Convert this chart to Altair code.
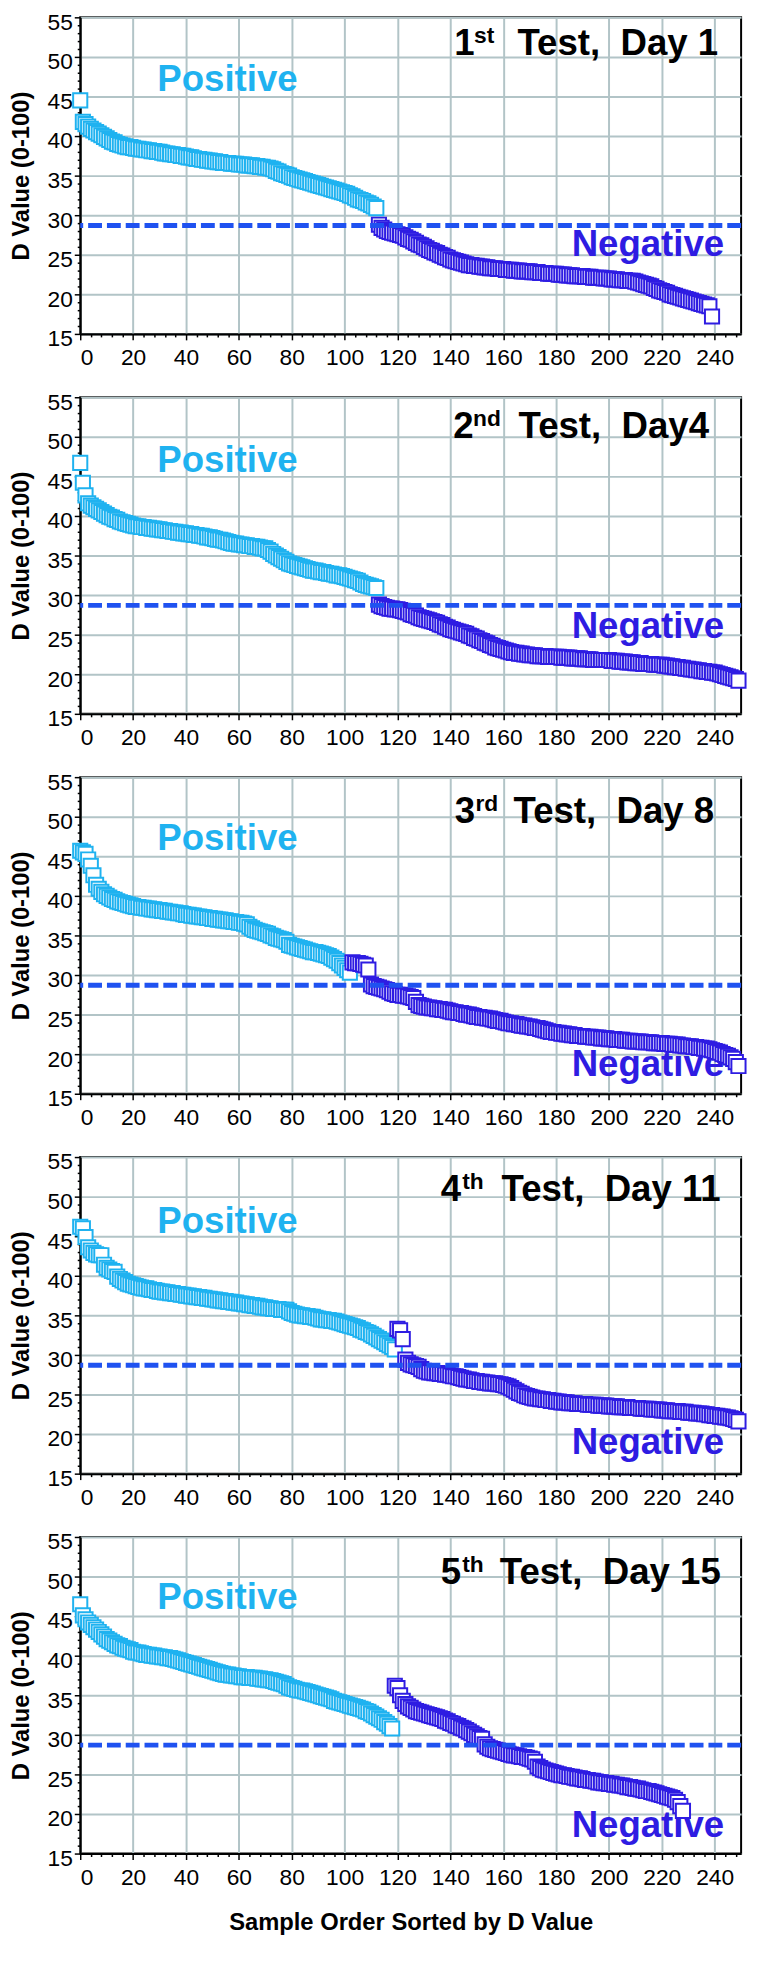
import altair as alt
import pandas as pd

# ---------------- data ----------------
# D values, sample order 0..N (positives first, then negatives)
P1_POS = [44.5, 41.8, 41.5, 41.2, 40.9, 40.7, 40.5, 40.3, 40.1, 39.9,
          39.7, 39.5, 39.3, 39.2, 39.0, 38.9, 38.8, 38.7, 38.6, 38.6,
          38.5, 38.4, 38.4, 38.3, 38.3, 38.2, 38.2, 38.1, 38.1, 38.0,
          38.0, 37.9, 37.8, 37.8, 37.7, 37.7, 37.6, 37.6, 37.5, 37.5,
          37.4, 37.3, 37.3, 37.2, 37.1, 37.1, 37.0, 37.0, 36.9, 36.9,
          36.8, 36.8, 36.7, 36.7, 36.6, 36.6, 36.6, 36.5, 36.5, 36.5,
          36.4, 36.4, 36.4, 36.3, 36.3, 36.3, 36.2, 36.2, 36.1, 36.1,
          36.0, 36.0, 35.9, 35.8, 35.6, 35.5, 35.3, 35.2, 35.1, 35.0,
          34.8, 34.7, 34.6, 34.5, 34.4, 34.3, 34.2, 34.1, 34.0, 33.9,
          33.8, 33.7, 33.6, 33.5, 33.4, 33.3, 33.2, 33.1, 33.0, 32.9,
          32.8, 32.7, 32.5, 32.4, 32.2, 32.0, 31.9, 31.8, 31.6, 31.5,
          31.3, 31.1, 30.9]
P1_NEG = [28.8, 28.4, 28.2, 28.0, 27.9, 27.8, 27.7,
          27.6, 27.5, 27.4, 27.2, 27.0, 26.9, 26.7, 26.5, 26.3, 26.2,
          26.0, 25.8, 25.6, 25.5, 25.3, 25.2, 25.0, 24.9, 24.7, 24.6,
          24.4, 24.3, 24.2, 24.1, 24.0, 23.9, 23.8, 23.7, 23.7, 23.6,
          23.6, 23.5, 23.5, 23.4, 23.4, 23.3, 23.3, 23.3, 23.2, 23.2,
          23.2, 23.1, 23.1, 23.1, 23.0, 23.0, 23.0, 22.9, 22.9, 22.9,
          22.9, 22.8, 22.8, 22.8, 22.7, 22.7, 22.7, 22.6, 22.6, 22.6,
          22.6, 22.5, 22.5, 22.5, 22.4, 22.4, 22.4, 22.3, 22.3, 22.3,
          22.3, 22.2, 22.2, 22.2, 22.1, 22.1, 22.1, 22.1, 22.0, 22.0,
          22.0, 21.9, 21.9, 21.9, 21.8, 21.8, 21.8, 21.7, 21.7, 21.7,
          21.6, 21.5, 21.4, 21.3, 21.2, 21.1, 21.0, 20.8, 20.7, 20.5,
          20.4, 20.3, 20.2, 20.0, 19.9, 19.8, 19.7, 19.6, 19.5, 19.4,
          19.3, 19.2, 19.1, 19.0, 18.9, 18.8, 18.7, 18.6, 18.5, 17.2]

P2_POS = [46.7, 44.2, 42.6, 41.6, 41.3, 41.1, 40.9, 40.7, 40.5, 40.3,
          40.1, 39.9, 39.8, 39.6, 39.5, 39.3, 39.2, 39.1, 39.0, 38.9,
          38.8, 38.7, 38.7, 38.6, 38.6, 38.5, 38.5, 38.4, 38.4, 38.3,
          38.3, 38.2, 38.2, 38.1, 38.1, 38.0, 38.0, 37.9, 37.9, 37.8,
          37.8, 37.7, 37.7, 37.6, 37.6, 37.5, 37.5, 37.4, 37.3, 37.3,
          37.2, 37.1, 37.0, 37.0, 36.9, 36.8, 36.7, 36.6, 36.5, 36.5,
          36.4, 36.4, 36.3, 36.3, 36.2, 36.2, 36.1, 36.1, 36.0, 35.9,
          35.9, 35.7, 35.5, 35.2, 35.0, 34.8, 34.6, 34.4, 34.2, 34.0,
          33.9, 33.8, 33.7, 33.6, 33.5, 33.4, 33.3, 33.2, 33.1, 33.1,
          33.0, 32.9, 32.9, 32.8, 32.7, 32.7, 32.6, 32.5, 32.5, 32.4,
          32.3, 32.2, 32.1, 32.0, 31.9, 31.8, 31.6, 31.4, 31.3, 31.2,
          31.1, 31.0, 30.9]
P2_NEG = [28.8, 28.6, 28.5, 28.4, 28.3, 28.3, 28.2,
          28.2, 28.1, 28.0, 27.9, 27.8, 27.6, 27.5, 27.4, 27.2, 27.1,
          27.0, 26.9, 26.8, 26.7, 26.6, 26.5, 26.3, 26.2, 26.0, 25.9,
          25.7, 25.6, 25.5, 25.4, 25.3, 25.2, 25.1, 24.9, 24.8, 24.6,
          24.5, 24.3, 24.2, 24.0, 23.9, 23.7, 23.6, 23.4, 23.3, 23.2,
          23.1, 23.0, 22.9, 22.8, 22.7, 22.7, 22.6, 22.6, 22.5, 22.5,
          22.4, 22.4, 22.4, 22.3, 22.3, 22.3, 22.3, 22.2, 22.2, 22.2,
          22.2, 22.2, 22.1, 22.1, 22.1, 22.1, 22.0, 22.0, 22.0, 22.0,
          21.9, 21.9, 21.9, 21.9, 21.8, 21.8, 21.8, 21.8, 21.8, 21.8,
          21.8, 21.7, 21.7, 21.7, 21.6, 21.6, 21.6, 21.5, 21.5, 21.5,
          21.4, 21.4, 21.4, 21.3, 21.3, 21.3, 21.3, 21.2, 21.2, 21.2,
          21.2, 21.1, 21.1, 21.0, 21.0, 20.9, 20.9, 20.8, 20.8, 20.7,
          20.7, 20.6, 20.6, 20.5, 20.5, 20.4, 20.4, 20.3, 20.3, 20.2,
          20.2, 20.1, 20.0, 19.9, 19.8, 19.7, 19.6, 19.5, 19.4, 19.2]

P3_POS = [45.7, 45.5, 45.3, 44.6, 43.8, 42.6, 41.4, 40.9, 40.5, 40.2,
          40.0, 39.8, 39.6, 39.5, 39.3, 39.2, 39.1, 39.0, 38.9, 38.8,
          38.7, 38.6, 38.6, 38.5, 38.5, 38.4, 38.4, 38.3, 38.3, 38.2,
          38.2, 38.1, 38.1, 38.0, 38.0, 37.9, 37.9, 37.8, 37.8, 37.7,
          37.6, 37.6, 37.5, 37.5, 37.4, 37.4, 37.3, 37.3, 37.2, 37.2,
          37.1, 37.1, 37.0, 37.0, 36.9, 36.9, 36.8, 36.8, 36.7, 36.7,
          36.6, 36.6, 36.5, 36.4, 36.1, 35.9, 35.7, 35.6, 35.5, 35.4,
          35.3, 35.2, 35.0, 34.9, 34.7, 34.6, 34.5, 34.4, 34.2, 33.8,
          33.7, 33.6, 33.5, 33.4, 33.3, 33.2, 33.1, 33.0, 32.9, 32.9,
          32.8, 32.7, 32.6, 32.5, 32.4, 32.2, 32.0, 31.8, 31.5, 31.2,
          30.9, 30.6, 30.3]
P3_NEG = [31.6, 31.5, 31.5, 31.4, 31.3, 31.2, 30.7,
          28.8, 28.6, 28.5, 28.4, 28.3, 28.2, 28.1, 27.9, 27.7, 27.6,
          27.5, 27.5, 27.4, 27.4, 27.3, 27.2, 27.1, 26.6, 26.2, 26.1,
          26.0, 25.9, 25.9, 25.8, 25.8, 25.7, 25.7, 25.6, 25.6, 25.5,
          25.4, 25.3, 25.3, 25.2, 25.2, 25.1, 25.0, 25.0, 24.9, 24.8,
          24.7, 24.7, 24.6, 24.6, 24.5, 24.5, 24.4, 24.3, 24.2, 24.2,
          24.1, 24.0, 23.9, 23.9, 23.8, 23.8, 23.7, 23.6, 23.6, 23.5,
          23.5, 23.4, 23.3, 23.3, 23.2, 23.1, 23.0, 22.9, 22.8, 22.8,
          22.7, 22.7, 22.6, 22.6, 22.5, 22.5, 22.4, 22.4, 22.3, 22.3,
          22.3, 22.2, 22.2, 22.2, 22.1, 22.1, 22.1, 22.0, 22.0, 22.0,
          21.9, 21.9, 21.9, 21.8, 21.8, 21.8, 21.7, 21.7, 21.7, 21.6,
          21.6, 21.6, 21.6, 21.5, 21.5, 21.5, 21.5, 21.4, 21.4, 21.4,
          21.4, 21.3, 21.3, 21.3, 21.2, 21.2, 21.2, 21.1, 21.1, 21.0,
          21.0, 21.0, 20.9, 20.9, 20.8, 20.8, 20.7, 20.7, 20.6, 20.5,
          20.4, 20.3, 20.2, 20.0, 19.9, 19.8, 19.6, 19.4, 19.0, 18.5]

P4_POS = [46.2, 46.0, 44.9, 43.6, 43.2, 42.9, 42.7, 42.6, 42.6, 41.4,
          41.0, 40.8, 40.6, 40.5, 39.9, 39.6, 39.4, 39.2, 39.0, 38.9,
          38.8, 38.7, 38.6, 38.5, 38.4, 38.4, 38.3, 38.2, 38.2, 38.1,
          38.0, 38.0, 37.9, 37.9, 37.8, 37.8, 37.7, 37.7, 37.6, 37.6,
          37.5, 37.5, 37.4, 37.4, 37.3, 37.3, 37.2, 37.2, 37.1, 37.1,
          37.0, 37.0, 36.9, 36.9, 36.8, 36.8, 36.7, 36.7, 36.6, 36.6,
          36.5, 36.5, 36.4, 36.4, 36.3, 36.3, 36.2, 36.2, 36.1, 36.0,
          36.0, 35.9, 35.9, 35.8, 35.8, 35.8, 35.7, 35.7, 35.7, 35.5,
          35.3, 35.2, 35.1, 35.0, 35.0, 34.9, 34.9, 34.8, 34.8, 34.7,
          34.6, 34.5, 34.5, 34.4, 34.4, 34.3, 34.3, 34.2, 34.1, 34.0,
          33.9, 33.8, 33.7, 33.6, 33.5, 33.4, 33.2, 33.1, 32.9, 32.8,
          32.6, 32.4, 32.2, 32.0, 31.8, 31.6, 31.4, 31.2, 31.0, 30.7]
P4_NEG = [33.3, 33.1, 32.0, 29.4, 29.0, 28.8, 28.7, 28.6, 28.5, 28.2,
          28.0, 27.9, 27.8, 27.8, 27.7, 27.7, 27.6, 27.6, 27.5, 27.5,
          27.4, 27.3, 27.3, 27.2, 27.1, 27.0, 26.9, 26.9, 26.8, 26.7,
          26.7, 26.6, 26.6, 26.5, 26.5, 26.4, 26.4, 26.4, 26.3, 26.3,
          26.2, 26.1, 26.0, 25.8, 25.6, 25.4, 25.2, 25.1, 24.9, 24.8,
          24.7, 24.6, 24.5, 24.5, 24.4, 24.4, 24.3, 24.3, 24.2, 24.2,
          24.1, 24.1, 24.0, 24.0, 24.0, 23.9, 23.9, 23.9, 23.8, 23.8,
          23.8, 23.8, 23.7, 23.7, 23.7, 23.7, 23.6, 23.6, 23.6, 23.6,
          23.5, 23.5, 23.5, 23.5, 23.4, 23.4, 23.4, 23.4, 23.3, 23.3,
          23.3, 23.3, 23.2, 23.2, 23.2, 23.2, 23.1, 23.1, 23.1, 23.1,
          23.0, 23.0, 23.0, 22.9, 22.9, 22.9, 22.9, 22.8, 22.8, 22.8,
          22.7, 22.7, 22.7, 22.6, 22.6, 22.6, 22.5, 22.5, 22.4, 22.4,
          22.3, 22.3, 22.2, 22.2, 22.1, 22.1, 22.0, 21.9, 21.8, 21.6]

P5_POS = [46.5, 45.1, 44.6, 44.2, 43.9, 43.6, 43.3, 43.0, 42.7, 42.4,
          42.1, 41.9, 41.7, 41.5, 41.3, 41.2, 41.0, 40.9, 40.8, 40.7,
          40.5, 40.4, 40.4, 40.3, 40.2, 40.1, 40.1, 40.0, 40.0, 39.9,
          39.9, 39.8, 39.8, 39.7, 39.7, 39.6, 39.5, 39.4, 39.3, 39.2,
          39.1, 39.0, 38.9, 38.8, 38.7, 38.6, 38.5, 38.4, 38.3, 38.2,
          38.1, 38.0, 37.9, 37.8, 37.7, 37.6, 37.6, 37.5, 37.5, 37.4,
          37.4, 37.3, 37.3, 37.3, 37.2, 37.2, 37.2, 37.1, 37.1, 37.0,
          37.0, 36.9, 36.9, 36.8, 36.7, 36.6, 36.5, 36.4, 36.2, 36.0,
          35.9, 35.8, 35.7, 35.6, 35.6, 35.5, 35.4, 35.3, 35.2, 35.1,
          35.0, 34.9, 34.8, 34.7, 34.6, 34.5, 34.3, 34.2, 34.1, 34.0,
          33.9, 33.8, 33.7, 33.6, 33.5, 33.4, 33.3, 33.2, 33.0, 32.9,
          32.7, 32.5, 32.3, 32.1, 31.9, 31.6, 31.4, 31.1, 30.8]
P5_NEG = [36.2, 35.9, 35.0, 34.3, 33.9, 33.6, 33.4, 33.2, 33.0, 32.9, 32.8,
          32.7, 32.6, 32.5, 32.4, 32.3, 32.2, 32.1, 32.0, 31.8, 31.7,
          31.5, 31.4, 31.2, 31.1, 30.9, 30.8, 30.6, 30.4, 30.2, 30.0,
          29.8, 29.6, 29.5, 28.8, 28.5, 28.3, 28.2, 28.1, 28.0, 27.9,
          27.8, 27.7, 27.6, 27.5, 27.4, 27.4, 27.3, 27.2, 27.2, 27.1,
          27.0, 26.9, 26.6, 26.0, 25.8, 25.6, 25.5, 25.4, 25.3, 25.2,
          25.1, 25.0, 24.9, 24.9, 24.8, 24.7, 24.7, 24.6, 24.5, 24.5,
          24.4, 24.3, 24.3, 24.2, 24.2, 24.1, 24.0, 24.0, 23.9, 23.9,
          23.8, 23.8, 23.7, 23.7, 23.6, 23.6, 23.5, 23.4, 23.4, 23.3,
          23.2, 23.2, 23.1, 23.0, 22.9, 22.9, 22.8, 22.7, 22.6, 22.5,
          22.4, 22.3, 22.2, 22.1, 22.0, 21.8, 21.5, 21.0, 20.4]

CUTOFF = 28.7
ORDINAL_NUM = ["1", "2", "3", "4", "5"]
ORDINAL_SUP = ["st", "nd", "rd", "th", "th"]
DAY_TEXT = ["Test,\u00a0 Day 1", "Test,\u00a0 Day4", "Test,\u00a0 Day 8",
            "Test,\u00a0 Day 11", "Test,\u00a0 Day 15"]
X_TICKS = list(range(0, 249, 4))
Y_TICKS = list(range(15, 56))
X_TITLE = "Sample Order Sorted by D Value"
Y_TITLE = "D Value (0-100)"

# ---------------- layout / style ----------------
NUM_X = [141.5, 141.1, 141.7, 136.4, 136.4]
SUP_X = [149.0, 148.6, 149.5, 144.5, 144.5]
MAIN_X = [165.4, 165.8, 163.9, 159.4, 158.7]
TITLE_Y = [50.25, 49.9, 49.25, 49.5, 49.1]
POSLAB_Y = [45.66, 45.6, 45.75, 45.4, 45.95]
NEGLAB_Y = [24.9, 24.6, 17.2, 17.5, 17.05]

POS_COLOR = "#1FB2F0"
NEG_COLOR = "#2E1CE2"
CUT_COLOR = "#1F52F0"
GRID_COLOR = "#B2C4C7"
FONT = "Liberation Sans"

XS = alt.Scale(domain=[0, 250], nice=False, zero=False)
YS = alt.Scale(domain=[15, 55], nice=False, zero=False)


def x_axis():
    return alt.Axis(
        values=X_TICKS,
        labelExpr="datum.value % 20 === 0 ? datum.label : ''",
        tickSize={"condition": {"test": "datum.value % 20 === 0", "value": 6}, "value": 3},
        gridOpacity={"condition": {"test": "datum.value % 20 === 0", "value": 1}, "value": 0},
        labelOverlap=False,
        labelPadding=7,
        titlePadding=22,
    )


def y_axis():
    return alt.Axis(
        values=Y_TICKS,
        labelExpr="datum.value % 5 === 0 ? datum.label : ''",
        tickSize={"condition": {"test": "datum.value % 5 === 0", "value": 6}, "value": 3},
        gridOpacity={"condition": {"test": "datum.value % 5 === 0", "value": 1}, "value": 0},
        labelOverlap=False,
        labelPadding=2,
        labelOffset=5,
        titlePadding=14,
    )


def enc_x(last):
    if last:
        return alt.X("idx:Q", scale=XS, axis=x_axis(), title=X_TITLE)
    return alt.X("idx:Q", scale=XS, axis=x_axis(), title=None)


def enc_y():
    return alt.Y("val:Q", scale=YS, axis=y_axis(), title=Y_TITLE)


def panel(i, pos, neg, last):
    vals = pos + neg
    df = pd.DataFrame({
        "idx": list(range(len(vals))),
        "val": vals,
        "grp": ["Positive"] * len(pos) + ["Negative"] * len(neg),
    })
    X = enc_x(last)
    Y = enc_y()

    pts = alt.Chart(df).mark_point(
        shape="square", filled=False, fill="white", fillOpacity=1,
        size=205, strokeWidth=2, opacity=1,
    ).encode(
        x=X, y=Y,
        color=alt.Color("grp:N", scale=alt.Scale(domain=["Positive", "Negative"],
                                                 range=[POS_COLOR, NEG_COLOR]),
                        legend=None),
    )

    cut = alt.Chart(pd.DataFrame({"val": [CUTOFF]})).mark_rule(
        color=CUT_COLOR, strokeWidth=5, strokeDash=[14, 5]
    ).encode(y=Y)

    big = dict(font=FONT, fontSize=37, fontWeight="bold", baseline="alphabetic")

    pos_lab = alt.Chart(pd.DataFrame({"idx": [55.7], "val": [POSLAB_Y[i]], "t": ["Positive"]})).mark_text(
        color=POS_COLOR, align="center", **big).encode(x=X, y=Y, text="t:N")
    neg_lab = alt.Chart(pd.DataFrame({"idx": [243.6], "val": [NEGLAB_Y[i]], "t": ["Negative"]})).mark_text(
        color=NEG_COLOR, align="right", **big).encode(x=X, y=Y, text="t:N")
    num = alt.Chart(pd.DataFrame({"idx": [NUM_X[i]], "val": [TITLE_Y[i]], "t": [ORDINAL_NUM[i]]})).mark_text(
        color="black", align="left", **big).encode(x=X, y=Y, text="t:N")
    sup = alt.Chart(pd.DataFrame({"idx": [SUP_X[i]], "val": [TITLE_Y[i] + 1.5], "t": [ORDINAL_SUP[i]]})).mark_text(
        color="black", align="left", font=FONT, fontSize=23, fontWeight="bold",
        baseline="alphabetic").encode(x=X, y=Y, text="t:N")
    main = alt.Chart(pd.DataFrame({"idx": [MAIN_X[i]], "val": [TITLE_Y[i]], "t": [DAY_TEXT[i]]})).mark_text(
        color="black", align="left", **big).encode(x=X, y=Y, text="t:N")

    return alt.layer(pos_lab, neg_lab, num, sup, main, pts, cut).properties(width=668, height=320)


DATA = [(P1_POS, P1_NEG), (P2_POS, P2_NEG), (P3_POS, P3_NEG), (P4_POS, P4_NEG), (P5_POS, P5_NEG)]
charts = [panel(i, p, n, i == len(DATA) - 1) for i, (p, n) in enumerate(DATA)]

chart = alt.vconcat(*charts, spacing=20).properties(
    padding={"left": 0, "top": -8, "right": 0, "bottom": 0},
    background="white",
).configure_view(
    stroke="black", strokeWidth=2
).configure_axis(
    domainColor="black", domainWidth=2,
    tickColor="black", tickWidth=1.5,
    labelFont=FONT, labelFontSize=23, labelColor="black",
    titleFont=FONT, titleFontSize=24, titleFontWeight="bold", titleColor="black",
    gridColor=GRID_COLOR, gridWidth=2,
)

chart.save("out.html", embed_options={"renderer": "svg", "actions": False})
